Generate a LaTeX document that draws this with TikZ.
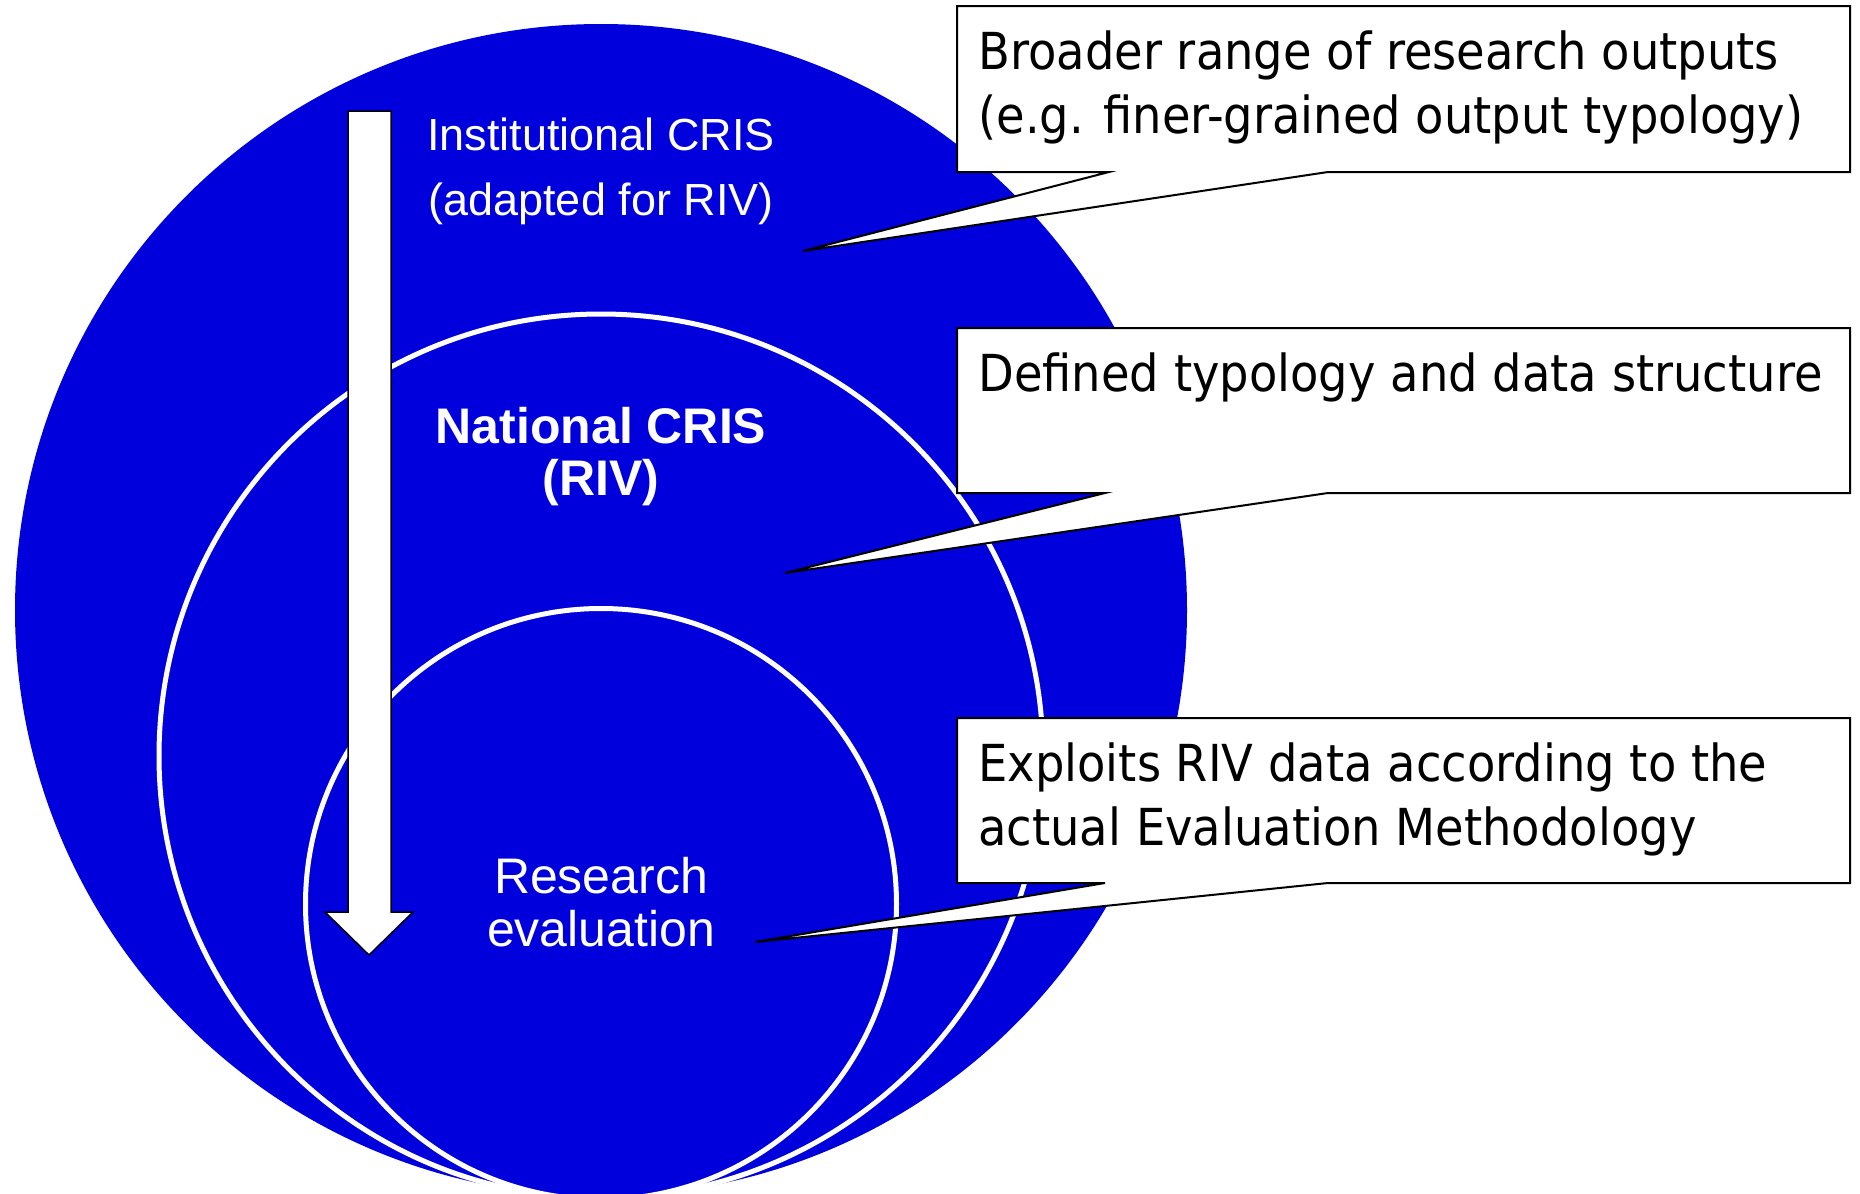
\documentclass[tikz,border=0pt]{standalone}
\usepackage{fontspec}
\setmainfont{Liberation Sans}
\newfontfamily\notefont[FakeStretch=0.91]{DejaVu Sans}
\definecolor{rivblue}{RGB}{0,0,221}
\tikzset{
  disc/.style={circle, fill=rivblue, inner sep=0pt, outer sep=0pt},
  ring/.style={disc, draw=white, line width=2.5pt},
  flowarrow/.style={fill=white, draw=black, line width=0.75pt, line join=miter},
  callout/.style={fill=white, draw=black, line width=1pt, line join=miter},
  note/.style={anchor=base west, inner sep=0pt, align=left, font=\notefont\fontsize{25.5}{32}\selectfont},
  label/.style={anchor=base, inner sep=0pt, align=center, text=white}
}
\begin{document}
\begin{tikzpicture}[x=0.5pt,y=-0.5pt]
\useasboundingbox (0,0) rectangle (1860,1194);

\node[disc, minimum size=586pt] (outer) at (601,610) {};
\node[ring, minimum size=442pt] (middle) at (601,756) {};
\node[ring, minimum size=295.5pt] (inner) at (601,904) {};

\draw[flowarrow] (348,111) -- (391,111) -- (391,912) -- (413,912) -- (369,955) -- (325,912) -- (348,912) -- cycle;

% base anchor sits on the last line
\node[label, font=\fontsize{22.5}{32.5}\selectfont] (institutional) at (601,215) {Institutional CRIS\\(adapted for RIV)};
\node[label, font=\bfseries\fontsize{25}{26}\selectfont] (national) at (601,495) {National CRIS\\(RIV)};
\node[label, font=\fontsize{25}{26.5}\selectfont] (evaluation) at (601,946) {Research\\evaluation};

\draw[callout] (957,6) -- (1850,6) -- (1850,172) -- (1328,172) -- (803,251) -- (1109,172) -- (957,172) -- cycle;
\node[note] (broader) at (978,133) {Broader range of research outputs\\(e.g. finer-grained output typology)};

\draw[callout] (957,328) -- (1850,328) -- (1850,493) -- (1328,493) -- (785,573) -- (1105,493) -- (957,493) -- cycle;
\node[note] (typology) at (978,391) {Defined typology and data structure};

\draw[callout] (957,718) -- (1850,718) -- (1850,883) -- (1328,883) -- (755,942) -- (1105,883) -- (957,883) -- cycle;
\node[note] (exploits) at (978,845) {Exploits RIV data according to the\\actual Evaluation Methodology};
\end{tikzpicture}
\end{document}
